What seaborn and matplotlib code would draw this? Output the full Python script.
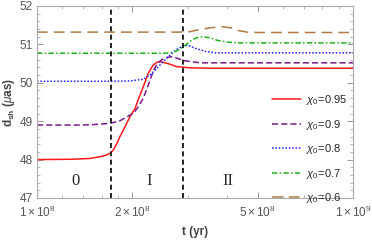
import numpy as np
import pandas as pd
import matplotlib
matplotlib.use("Agg")
import matplotlib.pyplot as plt
from matplotlib.ticker import NullFormatter, MultipleLocator
import seaborn as sns

# time in units of 1e8 yr
t_095 = [1.0, 1.3, 1.47, 1.6, 1.66, 1.715, 1.75, 1.79, 1.83, 1.9, 1.97, 2.04, 2.1, 2.17, 2.25, 2.33, 2.39, 2.45, 2.6, 2.77, 3.05, 3.5, 5.0, 10.0]
d_095 = [48.0, 48.01, 48.03, 48.08, 48.12, 48.18, 48.27, 48.42, 48.6, 48.86, 49.12, 49.32, 49.6, 49.9, 50.25, 50.46, 50.53, 50.55, 50.5, 50.42, 50.39, 50.38, 50.38, 50.38]

t_09 = [1.0, 1.4, 1.58, 1.715, 1.83, 1.97, 2.04, 2.1, 2.17, 2.25, 2.33, 2.4, 2.48, 2.57, 2.67, 2.78, 2.9, 3.28, 4.0, 10.0]
d_09 = [48.9, 48.9, 48.92, 48.95, 49.01, 49.16, 49.25, 49.4, 49.6, 49.94, 50.29, 50.5, 50.6, 50.66, 50.68, 50.64, 50.58, 50.52, 50.52, 50.52]

t_08 = [1.0, 1.7, 1.97, 2.165, 2.278, 2.398, 2.505, 2.636, 2.754, 2.898, 3.005, 3.162, 3.401, 3.659, 4.2, 10.0]
d_08 = [50.04, 50.04, 50.05, 50.09, 50.2, 50.38, 50.55, 50.72, 50.86, 50.96, 50.98, 50.9, 50.82, 50.78, 50.78, 50.78]

t_07 = [1.0, 2.3, 2.542, 2.636, 2.754, 2.898, 3.05, 3.185, 3.352, 3.527, 3.739, 4.021, 4.39, 10.0]
d_07 = [50.77, 50.77, 50.77, 50.78, 50.82, 50.93, 51.08, 51.17, 51.2, 51.17, 51.1, 51.06, 51.04, 51.04]

t_06 = [1.0, 2.8, 3.05, 3.185, 3.40, 3.606, 3.878, 4.1, 4.295, 4.618, 5.0, 10.0]
d_06 = [51.32, 51.32, 51.33, 51.37, 51.41, 51.44, 51.46, 51.43, 51.37, 51.32, 51.31, 51.31]

labels = ["$\\chi_0$=0.95", "$\\chi_0$=0.9", "$\\chi_0$=0.8", "$\\chi_0$=0.7", "$\\chi_0$=0.6"]
phase_t = [1.715, 2.9]
phase_names = ["0", "I", "II"]
phase_label_t = [1.32, 2.26, 4.01]

series = [(t_095, d_095), (t_09, d_09), (t_08, d_08), (t_07, d_07), (t_06, d_06)]
colors = ["#ff1a1a", "#7a1a8c", "#2020ff", "#1fb31f", "#b07a45"]
styles = ["-", (0, (4, 2)), (0, (1, 1.2)), (0, (3.5, 1.5, 1, 1.5)), (0, (7, 4))]

sns.set_style("ticks")
plt.rcParams["font.family"] = ["Liberation Sans", "DejaVu Sans"]
plt.rcParams["mathtext.fontset"] = "custom"
plt.rcParams["mathtext.rm"] = "Liberation Sans"
plt.rcParams["mathtext.it"] = "Liberation Sans:italic"
plt.rcParams["mathtext.bf"] = "Liberation Sans:bold"

fig = plt.figure(figsize=(3.72, 2.42), dpi=100)
ax = fig.add_axes([37 / 372, 1 - 198 / 242, 316 / 372, 192 / 242])

for (t, d), c, ls, lab in zip(series, colors, styles, labels):
    df = pd.DataFrame({"t": np.array(t) * 1e8, "d": d})
    sns.lineplot(data=df, x="t", y="d", color=c, linestyle=ls, lw=1.1, label=lab, ax=ax)

for tp in phase_t:
    ax.axvline(tp * 1e8, color="black", linestyle=(0, (3, 2)), lw=1.2)

for name, tp in zip(phase_names, phase_label_t):
    ax.text(tp * 1e8, 47.45, name, family="Liberation Serif", fontsize=12, ha="center", va="center")

ax.set_xscale("log")
ax.set_xlim(1e8, 1e9)
ax.set_ylim(47, 52)
ax.set_xticks([1e8, 2e8, 5e8, 1e9],
              labels=["$1\\times10^8$", "$2\\times10^8$", "$5\\times10^8$", "$1\\times10^9$"])
ax.set_xticks([3e8, 4e8, 6e8, 7e8, 8e8, 9e8, 1.2e8, 1.4e8, 1.6e8, 1.8e8], minor=True)
ax.xaxis.set_minor_formatter(NullFormatter())
ax.yaxis.set_major_locator(MultipleLocator(1))
ax.yaxis.set_minor_locator(MultipleLocator(0.2))

ax.tick_params(which="both", direction="in", top=True, right=True, color="#999999",
               labelcolor="#555555", labelsize=8.5)
ax.tick_params(axis="x", which="both", pad=5)
ax.tick_params(axis="y", which="both", pad=3)
ax.tick_params(which="major", length=4, width=0.7)
ax.tick_params(which="minor", length=2, width=0.5)
for s in ax.spines.values():
    s.set_color("#aaaaaa")
    s.set_linewidth(0.8)

ax.set_xlabel("t (yr)", fontweight="bold", color="#444444", fontsize=8.5, labelpad=4)
ax.set_ylabel("$\\mathbf{d_{sh}}$ ($\\mathit{\\mu}$as)", fontweight="bold", color="#444444", fontsize=8.5, labelpad=2)

ax.legend(loc="upper left", bbox_to_anchor=(0.725, 0.575), frameon=False, fontsize=8,
          handlelength=2.6, handletextpad=0.5, labelspacing=0.95, borderpad=0)

fig.savefig("out.png", dpi=100)
